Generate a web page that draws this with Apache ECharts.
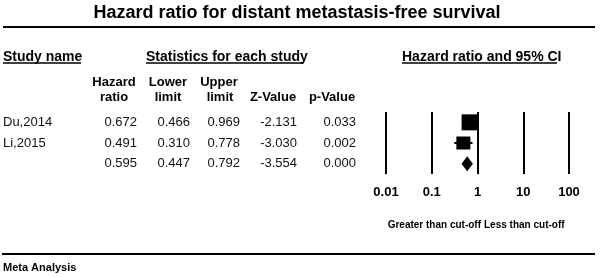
<!DOCTYPE html>
<html>
<head>
<meta charset="utf-8">
<script src="https://cdn.jsdelivr.net/npm/echarts@6/dist/echarts.min.js"></script>
<style>
  html, body { margin: 0; padding: 0; background: #fff; }
  #forest { width: 605px; height: 277px; }
</style>
</head>
<body>
<div id="forest"></div>
<script>
var studies = ['Du,2014', 'Li,2015', ''];
var hazardRatio = [0.672, 0.491, 0.595];
var lowerLimit = [0.466, 0.310, 0.447];
var upperLimit = [0.969, 0.778, 0.792];
var zValue = [-2.131, -3.030, -3.554];
var pValue = [0.033, 0.002, 0.000];
var xTicks = [0.01, 0.1, 1, 10, 100];

var FONT = '"Liberation Sans", Arial, sans-serif';
var boxSize = [[16, 16], [14, 13]]; // study squares (weights)
var gridLeft = 386;

var rows = studies.map(function (s, i) { return String(i); });

// one category axis per table column, right edge of column given
function column(values, rightEdge, fmt) {
    return {
        type: 'category',
        gridIndex: 0,
        position: 'left',
        offset: gridLeft - rightEdge,
        inverse: true,
        data: rows,
        axisLine: { show: false },
        axisTick: { show: false },
        splitLine: { show: false },
        axisLabel: {
            interval: 0,
            margin: 0,
            align: 'right',
            color: '#111',
            fontFamily: FONT,
            fontSize: 13,
            formatter: function (v, idx) { return fmt(values[idx]); }
        }
    };
}
function fix3(v) { return v.toFixed(3); }

var studyAxis = column(studies, 3, function (v) { return v; });
studyAxis.axisLabel.align = 'left';

function txt(text, x, y, size, align) {
    return {
        type: 'text',
        style: {
            text: text, x: x, y: y,
            font: 'bold ' + size + 'px ' + FONT,
            fill: '#000',
            align: align || 'left',
            verticalAlign: 'middle'
        }
    };
}
function rule(x1, y, x2, w) {
    return {
        type: 'line',
        shape: { x1: x1, y1: y, x2: x2, y2: y },
        style: { stroke: '#000', lineWidth: w }
    };
}

var option = {
    animation: false,
    grid: {
        left: gridLeft,
        right: 36,
        top: 112,
        bottom: 103,
        containLabel: false,
        outerBoundsMode: 'none'
    },
    xAxis: {
        type: 'log',
        logBase: 10,
        min: xTicks[0],
        max: xTicks[xTicks.length - 1],
        interval: 1,
        axisLine: { show: false },
        axisTick: { show: false },
        splitLine: {
            show: true,
            showMinLine: true,
            showMaxLine: true,
            lineStyle: { color: '#000', width: 2 }
        },
        axisLabel: {
            margin: 12,
            color: '#000',
            fontFamily: FONT,
            fontWeight: 'bold',
            fontSize: 13
        }
    },
    yAxis: [
        studyAxis,
        column(hazardRatio, 137, fix3),
        column(lowerLimit, 190, fix3),
        column(upperLimit, 240, fix3),
        column(zValue, 297, fix3),
        column(pValue, 356, fix3)
    ],
    series: [{
        type: 'custom',
        xAxisIndex: 0,
        yAxisIndex: 0,
        encode: { x: [0, 1, 2], y: 3 },
        data: hazardRatio.map(function (hr, i) {
            return [hr, lowerLimit[i], upperLimit[i], i];
        }),
        renderItem: function (params, api) {
            var i = api.value(3);
            var c = api.coord([api.value(0), i]);
            var lo = api.coord([api.value(1), i]);
            var hi = api.coord([api.value(2), i]);
            if (i === studies.length - 1) {
                return {
                    type: 'polygon',
                    shape: { points: [[lo[0], c[1]], [c[0], c[1] - 7.5], [hi[0], c[1]], [c[0], c[1] + 7.5]] },
                    style: { fill: '#000' }
                };
            }
            var s = boxSize[i];
            return {
                type: 'group',
                children: [{
                    type: 'line',
                    shape: { x1: lo[0], y1: c[1], x2: hi[0], y2: c[1] },
                    style: { stroke: '#000', lineWidth: 2 }
                }, {
                    type: 'rect',
                    shape: { x: c[0] - s[0] / 2, y: c[1] - s[1] / 2, width: s[0], height: s[1] },
                    style: { fill: '#000' }
                }]
            };
        }
    }],
    graphic: [
        txt('Hazard ratio for distant metastasis-free survival', 297, 13, 18, 'center'),
        rule(3, 27, 595, 2),
        txt('Study name', 3, 57, 14),
        rule(3, 63, 81, 1.5),
        txt('Statistics for each study', 146, 57, 14),
        rule(146, 63, 303, 1.5),
        txt('Hazard ratio and 95% CI', 402, 57, 14),
        rule(402, 63, 557, 1.5),
        txt('Hazard', 114, 82, 13, 'center'),
        txt('Lower', 168, 82, 13, 'center'),
        txt('Upper', 219, 82, 13, 'center'),
        txt('ratio', 114, 97, 13, 'center'),
        txt('limit', 168, 97, 13, 'center'),
        txt('limit', 220, 97, 13, 'center'),
        txt('Z-Value', 273, 97, 13, 'center'),
        txt('p-Value', 332, 97, 13, 'center'),
        txt('Greater than cut-off', 481, 225, 10, 'right'),
        txt('Less than cut-off', 484, 225, 10, 'left'),
        rule(2, 254, 595, 2),
        txt('Meta Analysis', 3, 268, 11)
    ]
};

var forest = echarts.init(document.getElementById('forest'));
forest.setOption(option);
</script>
</body>
</html>
